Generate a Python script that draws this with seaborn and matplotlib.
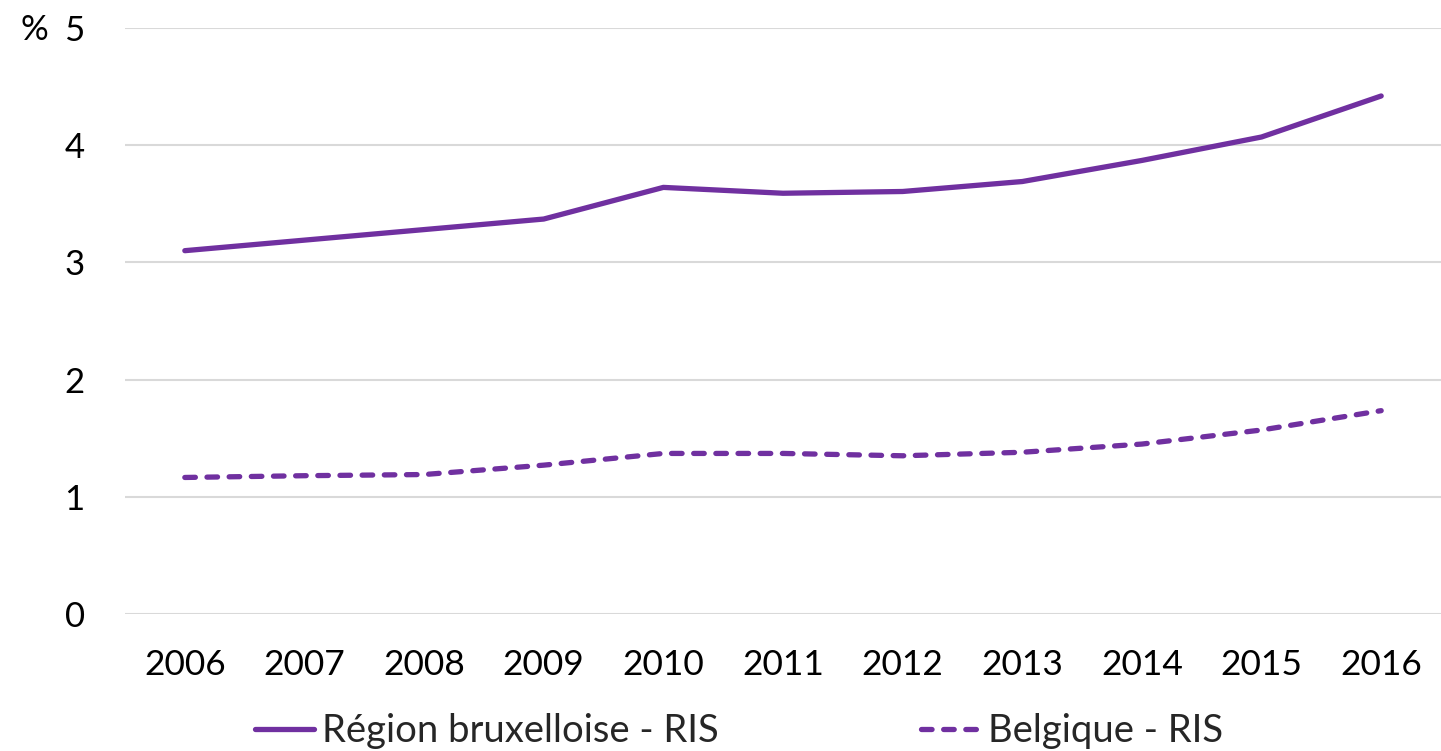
import matplotlib
matplotlib.use("Agg")
import matplotlib.pyplot as plt
import seaborn as sns
import pandas as pd

# Share of population receiving the RIS (%)
years = [2006, 2007, 2008, 2009, 2010, 2011, 2012, 2013, 2014, 2015, 2016]
bruxelles = [3.10, 3.19, 3.28, 3.37, 3.64, 3.59, 3.605, 3.69, 3.87, 4.07, 4.42]
belgique = [1.165, 1.18, 1.19, 1.27, 1.37, 1.37, 1.35, 1.38, 1.45, 1.57, 1.735]
series_names = ["Région bruxelloise - RIS", "Belgique - RIS"]
y_ticks = [0, 1, 2, 3, 4, 5]

sns.set_theme(style="white")
plt.rcParams["font.family"] = ["Lato", "DejaVu Sans"]

purple = "#7030A0"
dash = (2.0, 2.2)

df = pd.DataFrame({
    "pos": list(range(len(years))) * 2,
    "value": bruxelles + belgique,
    "serie": [series_names[0]] * len(years) + [series_names[1]] * len(years),
})

fig = plt.figure(figsize=(14.41, 7.51), dpi=100)
ax = fig.add_axes([125 / 1441, 1 - 614 / 751, 1 - 125 / 1441, (614 - 28) / 751])

sns.lineplot(
    data=df, x="pos", y="value", hue="serie", style="serie",
    palette=[purple, purple], dashes=[(None, None), dash],
    linewidth=3.8, ax=ax, legend=False,
)
for line in ax.get_lines():
    line.set_solid_capstyle("round")
    line.set_dash_capstyle("round")
    line.set_solid_joinstyle("round")

ax.set_xlim(-0.5, len(years) - 0.5)
ax.set_ylim(0, 5)
ax.set_yticks(y_ticks)
ax.set_yticklabels([str(t) for t in y_ticks])
ax.set_xticks(range(len(years)))
ax.set_xticklabels([str(y) for y in years])
ax.set_xlabel("")
ax.set_ylabel("")
ax.tick_params(axis="y", length=0, pad=29, labelsize=25, colors="black")
ax.tick_params(axis="x", length=0, pad=25, labelsize=25.5, colors="black")
ax.grid(axis="y", color="#d9d9d9", linewidth=1.5)
ax.grid(axis="x", visible=False)
ax.set_axisbelow(True)
for spine in ax.spines.values():
    spine.set_visible(False)

fig.text(34 / 1441, 1 - 30 / 751, "%", fontsize=25, ha="center", va="center", color="black")

handles = [
    plt.Line2D([], [], color=purple, linewidth=3.8, solid_capstyle="round"),
    plt.Line2D([], [], color=purple, linewidth=3.8, linestyle=(0, dash),
               dash_capstyle="round"),
]
fig.legend(
    handles, series_names, loc="center", ncol=2,
    bbox_to_anchor=(739 / 1441, 1 - 731 / 751), frameon=False,
    fontsize=27.5, handlelength=1.55, handletextpad=0.2, columnspacing=5.3,
    borderaxespad=0, borderpad=0,
)

fig.savefig("out.png", dpi=100)
